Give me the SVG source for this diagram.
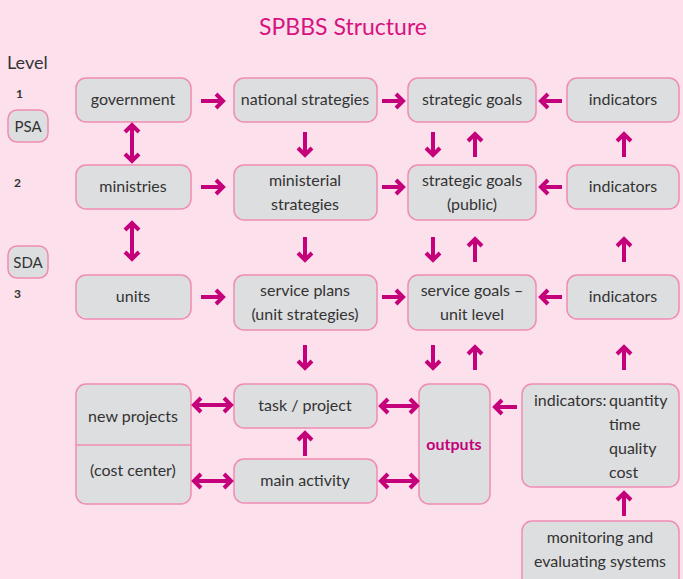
<svg xmlns="http://www.w3.org/2000/svg" width="683" height="579" viewBox="0 0 683 579">
<style>
.bg{fill:#FCE0EC}
.box{fill:#DDDEE0;stroke:#F08CB4;stroke-width:1.5}
.t{font-family:Lato,"Open Sans",sans-serif;font-size:16px;fill:#333;text-anchor:middle}
.s{font-family:Lato,"Open Sans",sans-serif;font-size:12px;font-weight:bold;fill:#333}
.a{fill:none;stroke:#C4007A;stroke-width:4;stroke-linejoin:miter;stroke-linecap:butt}
</style>
<rect class="bg" width="683" height="579"/>
<text x="343" y="35" style="font-family:Lato,'Open Sans',sans-serif;font-size:23px;fill:#D6137F;text-anchor:middle">SPBBS Structure</text>
<text x="7" y="69" style="font-family:Lato,'Open Sans',sans-serif;font-size:18px;fill:#333">Level</text>
<g id="levels">
<text class="s" x="16" y="98">1</text>
<text class="s" x="14" y="187">2</text>
<text class="s" x="14" y="298">3</text>
</g>
<g id="psa"><rect class="box" x="8" y="110" width="40" height="32" rx="9"/><text class="t" x="28" y="132" style="font-size:15px">PSA</text></g>
<g id="sda"><rect class="box" x="8" y="246" width="40" height="32" rx="9"/><text class="t" x="28" y="268" style="font-size:15px">SDA</text></g>

<g id="government"><rect class="box" x="76" y="78" width="115" height="44" rx="10"/><text class="t" x="133" y="105">government</text></g>
<g id="ministries"><rect class="box" x="76" y="165" width="115" height="44" rx="10"/><text class="t" x="133" y="192">ministries</text></g>
<g id="units"><rect class="box" x="76" y="275" width="115" height="44" rx="10"/><text class="t" x="133" y="302">units</text></g>

<g id="national"><rect class="box" x="234" y="78" width="143" height="44" rx="10"/><text class="t" x="305" y="105">national strategies</text></g>
<g id="ministerial"><rect class="box" x="234" y="165" width="143" height="55" rx="10"/><text class="t" x="305" y="186">ministerial</text><text class="t" x="305" y="210">strategies</text></g>
<g id="serviceplans"><rect class="box" x="234" y="275" width="143" height="55" rx="10"/><text class="t" x="305" y="296">service plans</text><text class="t" x="305" y="320">(unit strategies)</text></g>

<g id="goals1"><rect class="box" x="408" y="78" width="128" height="44" rx="10"/><text class="t" x="472" y="105">strategic goals</text></g>
<g id="goals2"><rect class="box" x="408" y="165" width="128" height="55" rx="10"/><text class="t" x="472" y="186">strategic goals</text><text class="t" x="472" y="210">(public)</text></g>
<g id="goals3"><rect class="box" x="408" y="275" width="128" height="55" rx="10"/><text class="t" x="472" y="296">service goals –</text><text class="t" x="472" y="320">unit level</text></g>

<g id="ind1"><rect class="box" x="567" y="78" width="112" height="44" rx="10"/><text class="t" x="623" y="105">indicators</text></g>
<g id="ind2"><rect class="box" x="567" y="165" width="112" height="44" rx="10"/><text class="t" x="623" y="192">indicators</text></g>
<g id="ind3"><rect class="box" x="567" y="275" width="112" height="44" rx="10"/><text class="t" x="623" y="302">indicators</text></g>

<g id="newprojects"><rect class="box" x="76" y="384" width="115" height="120" rx="10"/><line x1="76" y1="445" x2="191" y2="445" stroke="#F08CB4" stroke-width="1.5"/><text class="t" x="133" y="422">new projects</text><text class="t" x="133" y="476">(cost center)</text></g>
<g id="task"><rect class="box" x="234" y="384" width="143" height="44" rx="10"/><text class="t" x="305" y="411">task / project</text></g>
<g id="main"><rect class="box" x="234" y="459" width="143" height="44" rx="10"/><text class="t" x="305" y="486">main activity</text></g>
<g id="outputs"><rect class="box" x="419" y="384" width="71" height="120" rx="10"/><text class="t" x="454" y="450" style="font-weight:bold;fill:#C4007A">outputs</text></g>
<g id="ind4"><rect class="box" x="522" y="384" width="157" height="103" rx="10"/>
<text class="t" x="534" y="406" style="text-anchor:start">indicators:</text>
<text class="t" x="609" y="406" style="text-anchor:start">quantity</text>
<text class="t" x="609" y="430" style="text-anchor:start">time</text>
<text class="t" x="609" y="454" style="text-anchor:start">quality</text>
<text class="t" x="609" y="478" style="text-anchor:start">cost</text></g>
<g id="monitoring"><rect class="box" x="522" y="521" width="157" height="68" rx="10"/><text class="t" x="600" y="543">monitoring and</text><text class="t" x="600" y="567">evaluating systems</text></g>

<g id="connectors">
<path class="a" d="M201 101H223M216 94L223 101L216 108"/>
<path class="a" d="M201 187H223M216 180L223 187L216 194"/>
<path class="a" d="M201 297H223M216 290L223 297L216 304"/>
<path class="a" d="M382 101H403M396 94L403 101L396 108"/>
<path class="a" d="M382 187H403M396 180L403 187L396 194"/>
<path class="a" d="M382 297H403M396 290L403 297L396 304"/>
<path class="a" d="M562 101H541M548 94L541 101L548 108"/>
<path class="a" d="M562 187H541M548 180L541 187L548 194"/>
<path class="a" d="M562 297H541M548 290L541 297L548 304"/>
<path class="a" d="M517 407H495M502 400L495 407L502 414"/>
<path class="a" d="M132 125V161M125 132L132 125L139 132M125 154L132 161L139 154"/>
<path class="a" d="M132 223V259M125 230L132 223L139 230M125 252L132 259L139 252"/>
<path class="a" d="M305 132V155M298 148L305 155L312 148"/>
<path class="a" d="M305 237V260M298 253L305 260L312 253"/>
<path class="a" d="M305 345V368M298 361L305 368L312 361"/>
<path class="a" d="M433 132V155M426 148L433 155L440 148"/>
<path class="a" d="M433 237V260M426 253L433 260L440 253"/>
<path class="a" d="M433 345V368M426 361L433 368L440 361"/>
<path class="a" d="M475 157V134M468 141L475 134L482 141"/>
<path class="a" d="M475 262V239M468 246L475 239L482 246"/>
<path class="a" d="M475 370V347M468 354L475 347L482 354"/>
<path class="a" d="M624 157V134M617 141L624 134L631 141"/>
<path class="a" d="M624 262V239M617 246L624 239L631 246"/>
<path class="a" d="M624 370V347M617 354L624 347L631 354"/>
<path class="a" d="M624 516V493M617 500L624 493L631 500"/>
<path class="a" d="M305 456V433M298 440L305 433L312 440"/>
<path class="a" d="M194 405H231M201 398L194 405L201 412M224 398L231 405L224 412"/>
<path class="a" d="M194 481H231M201 474L194 481L201 488M224 474L231 481L224 488"/>
<path class="a" d="M381 406H417M388 399L381 406L388 413M410 399L417 406L410 413"/>
<path class="a" d="M381 481H417M388 474L381 481L388 488M410 474L417 481L410 488"/>
</g>
</svg>
